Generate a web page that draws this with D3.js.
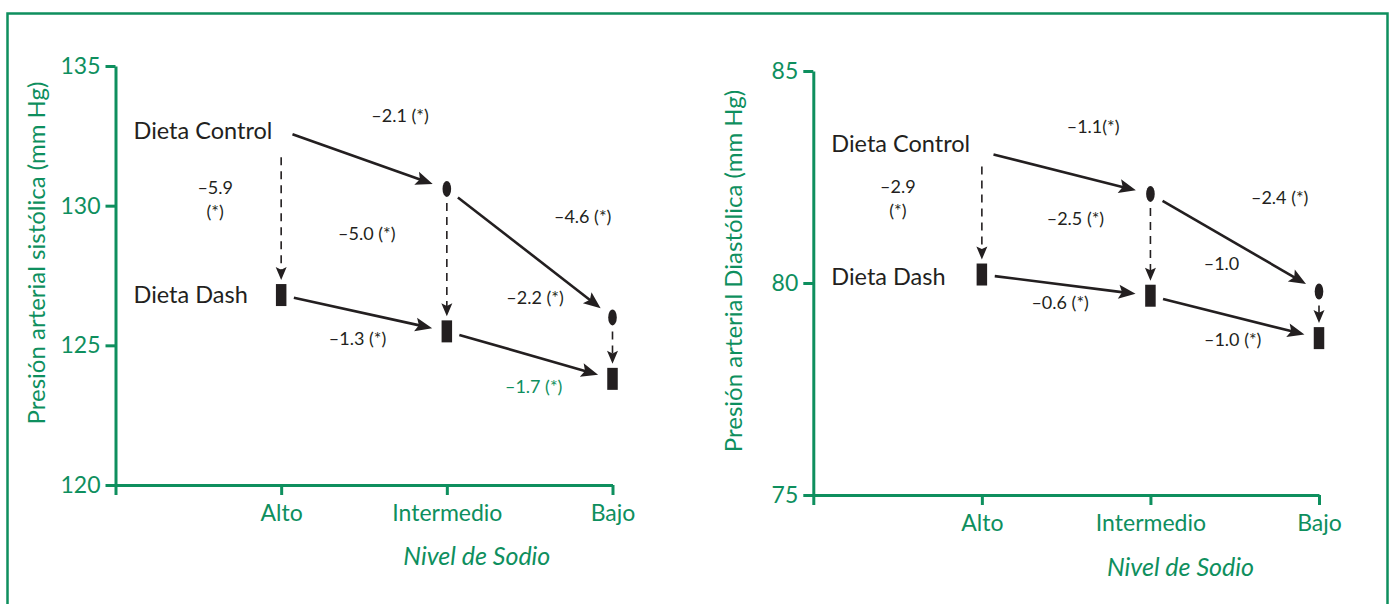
<!DOCTYPE html>
<html>
<head>
<meta charset="utf-8">
<script src="https://cdn.jsdelivr.net/npm/d3@7"></script>
<style>
  html, body { margin: 0; padding: 0; background: #fff; }
  svg { display: block; font-family: Lato, "Open Sans", sans-serif; }
</style>
</head>
<body>
<svg id="chart" width="1396" height="604"></svg>
<script>
// Sodium level categories
const categories = ["Alto", "Intermedio", "Bajo"];

// Axis tick values
const systolicTicks = [120, 125, 130, 135];
const diastolicTicks = [75, 80, 85];

// Mean blood pressure (mm Hg) by diet and sodium level
const systolicControl = [132.7, 130.6, 126.0];
const systolicDash = [126.8, 125.5, 123.8];
const diastolicControl = [83.1, 82.1, 79.8];
const diastolicDash = [80.2, 79.7, 78.7];

// Change labels: along sodium levels (per diet) and between diets at each level
const systolicControlChange = ["–2.1 (*)", "–4.6 (*)"];
const systolicDashChange = ["–1.3 (*)", "–1.7 (*)"];
const systolicDietChange = [["–5.9", "(*)"], ["–5.0 (*)"], ["–2.2 (*)"]];
const diastolicControlChange = ["–1.1(*)", "–2.4 (*)"];
const diastolicDashChange = ["–0.6 (*)", "–1.0 (*)"];
const diastolicDietChange = [["–2.9", "(*)"], ["–2.5 (*)"], ["–1.0"]];

const seriesNames = ["Dieta Control", "Dieta Dash"];
const yTitles = ["Presión arterial sistólica (mm Hg)", "Presión arterial Diastólica (mm Hg)"];
const xTitle = "Nivel de Sodio";

const GREEN = "#0e8f5e";
const INK = "#231f20";

const svg = d3.select("#chart");

// Outer frame
svg.append("rect")
  .attr("x", 7.5).attr("y", 13.5)
  .attr("width", 1380).attr("height", 700)
  .attr("fill", "none").attr("stroke", GREEN).attr("stroke-width", 2.5);

const panels = [
  {
    x0: 115.5, x1: 612.5, yTop: 66, yBottom: 485,
    domain: [120, 135], ticks: systolicTicks,
    control: systolicControl, dash: systolicDash,
    controlChange: systolicControlChange, dashChange: systolicDashChange,
    dietChange: systolicDietChange, dashHighlight: [false, true],
    yTitle: yTitles[0], yTitleX: 45, yTitleY: 253, xTitleY: 565,
    altoGap: 27,
    controlNameDy: 9, dashNameDy: 8,
    controlOff: [[36, -38], [53, -30]],
    dashOff: [[-6.5, 32], [4, 38]],
    dietOff: [[-66, -19], [-80, -20], [-77.5, -44]]
  },
  {
    x0: 813.3, x1: 1319, yTop: 71, yBottom: 495,
    domain: [75, 85], ticks: diastolicTicks,
    control: diastolicControl, dash: diastolicDash,
    controlChange: diastolicControlChange, dashChange: diastolicDashChange,
    dietChange: diastolicDietChange, dashHighlight: [false, false],
    yTitle: yTitles[1], yTitleX: 742, yTitleY: 271, xTitleY: 576,
    altoGap: 15,
    controlNameDy: 0, dashNameDy: 10,
    controlOff: [[27, -40], [45, -39]],
    dashOff: [[-6, 24], [-2, 29]],
    dietOff: [[-84, -20], [-75, -20], [-97.5, -45]]
  }
];

// Straight arrow between two points with a filled triangular head
function arrow(g, p0, p1, gap0, gap1, o) {
  const dx = p1[0] - p0[0], dy = p1[1] - p0[1];
  const L = Math.hypot(dx, dy);
  const ux = dx / L, uy = dy / L, nx = -uy, ny = ux;
  const sx = p0[0] + ux * gap0, sy = p0[1] + uy * gap0;
  const tx = p1[0] - ux * gap1, ty = p1[1] - uy * gap1;
  const bx = tx - ux * o.len, by = ty - uy * o.len;
  g.append("line")
    .attr("x1", sx).attr("y1", sy)
    .attr("x2", tx - ux * o.len * 0.7).attr("y2", ty - uy * o.len * 0.7)
    .attr("stroke", INK).attr("stroke-width", o.width)
    .attr("stroke-dasharray", o.dash || null);
  g.append("path")
    .attr("d", `M${tx},${ty}L${bx + nx * o.hw},${by + ny * o.hw}L${bx + ux * o.len * 0.2},${by + uy * o.len * 0.2}L${bx - nx * o.hw},${by - ny * o.hw}Z`)
    .attr("fill", INK);
}

const solid = { width: 2.6, len: 17, hw: 7 };
const dashed = { width: 1.6, len: 13, hw: 5.5, dash: "8,6" };

function annot(g, x, y, lines, color) {
  const t = g.append("text")
    .attr("x", x).attr("y", y)
    .attr("text-anchor", "middle")
    .attr("font-size", 18)
    .attr("fill", color || INK);
  lines.forEach((s, i) => {
    t.append("tspan").attr("x", x).attr("dy", i === 0 ? 0 : 24).text(s);
  });
}

panels.forEach(p => {
  const g = svg.append("g");
  const x = d3.scalePoint().domain(["", ...categories]).range([p.x0, p.x1]);
  const y = d3.scaleLinear().domain(p.domain).range([p.yBottom, p.yTop]);

  // Y axis
  const ya = g.append("g")
    .attr("transform", `translate(${p.x0},0)`)
    .call(d3.axisLeft(y).tickValues(p.ticks).tickSize(10).tickSizeOuter(0).tickPadding(5).tickFormat(d3.format("d")));
  // X axis
  const xa = g.append("g")
    .attr("transform", `translate(0,${p.yBottom})`)
    .call(d3.axisBottom(x).tickSize(10).tickSizeOuter(0).tickPadding(10));
  [ya, xa].forEach(a => {
    a.selectAll("path, line").attr("stroke", GREEN).attr("stroke-width", 3);
    a.selectAll("text").attr("fill", GREEN).attr("font-size", 23).attr("font-family", "Lato, sans-serif");
  });

  // Axis titles
  g.append("text")
    .attr("transform", `translate(${p.yTitleX},${p.yTitleY}) rotate(-90)`)
    .attr("text-anchor", "middle").attr("font-size", 24).attr("fill", GREEN)
    .text(p.yTitle);
  g.append("text")
    .attr("x", x("Intermedio") + 30).attr("y", p.xTitleY)
    .attr("text-anchor", "middle").attr("font-size", 25).attr("font-style", "italic").attr("fill", GREEN)
    .text(xTitle);

  const cPts = categories.map((c, i) => [x(c), y(p.control[i])]);
  const dPts = categories.map((c, i) => [x(c), y(p.dash[i])]);

  // Series names sit at the high-sodium control position
  g.append("text")
    .attr("x", p.x0 + 18).attr("y", cPts[0][1] + p.controlNameDy)
    .attr("font-size", 23.5).attr("fill", INK).text(seriesNames[0]);
  g.append("text")
    .attr("x", p.x0 + 18).attr("y", dPts[0][1] + p.dashNameDy)
    .attr("font-size", 23.5).attr("fill", INK).text(seriesNames[1]);

  // Arrows along sodium levels
  for (let i = 0; i < 2; i++) {
    arrow(g, cPts[i], cPts[i + 1], i === 0 ? 12 : 14, 15, solid);
    arrow(g, dPts[i], dPts[i + 1], 13, 15, solid);
    const cm = [(cPts[i][0] + cPts[i + 1][0]) / 2, (cPts[i][1] + cPts[i + 1][1]) / 2];
    const dm = [(dPts[i][0] + dPts[i + 1][0]) / 2, (dPts[i][1] + dPts[i + 1][1]) / 2];
    annot(g, cm[0] + p.controlOff[i][0], cm[1] + p.controlOff[i][1], [p.controlChange[i]]);
    annot(g, dm[0] + p.dashOff[i][0], dm[1] + p.dashOff[i][1], [p.dashChange[i]],
      p.dashHighlight[i] ? GREEN : INK);
  }

  // Dashed arrows between diets
  categories.forEach((c, i) => {
    const gap0 = i === 0 ? p.altoGap : 14;
    arrow(g, cPts[i], dPts[i], gap0, 15, dashed);
    const m = [cPts[i][0], (cPts[i][1] + dPts[i][1]) / 2];
    annot(g, m[0] + p.dietOff[i][0], m[1] + p.dietOff[i][1], p.dietChange[i]);
  });

  // Markers: control (ellipse), DASH (bar)
  g.selectAll("ellipse.ctrl").data(cPts.slice(1)).join("ellipse")
    .attr("cx", d => d[0]).attr("cy", d => d[1])
    .attr("rx", 4.3).attr("ry", 8).attr("fill", INK);
  g.selectAll("rect.dash").data(dPts).join("rect")
    .attr("x", d => d[0] - 5.25).attr("y", d => d[1] - 11)
    .attr("width", 10.5).attr("height", 22).attr("fill", INK);
});
</script>
</body>
</html>
